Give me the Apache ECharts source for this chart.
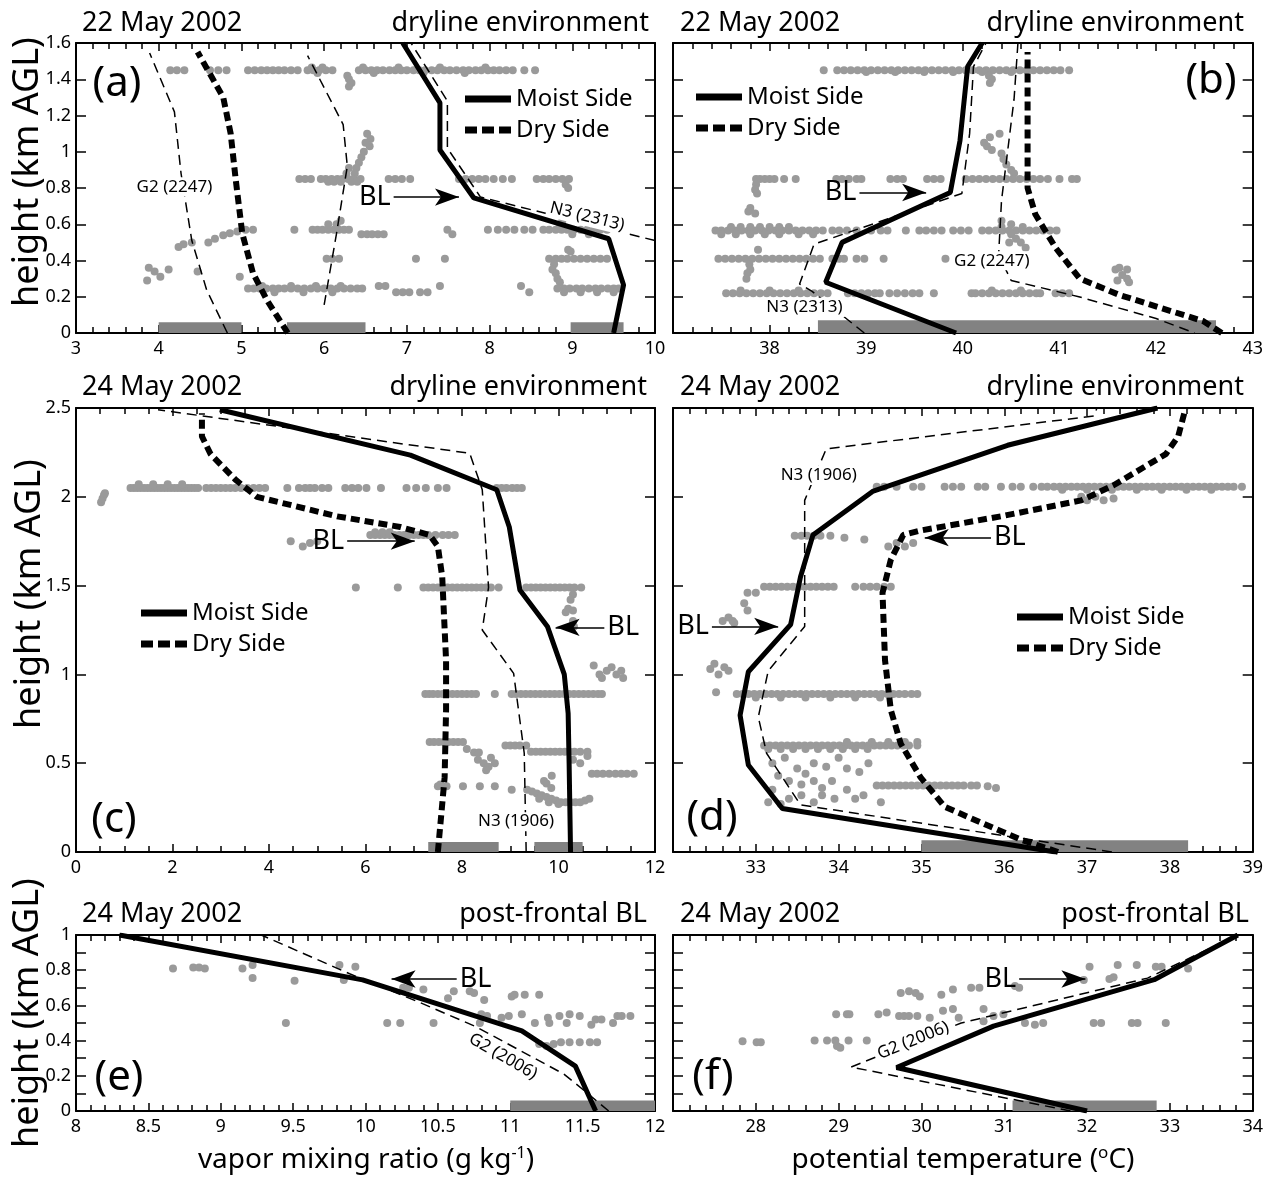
<!DOCTYPE html>
<html><head><meta charset="utf-8">
<script src="https://cdn.jsdelivr.net/npm/echarts@6/dist/echarts.min.js"></script>
<style>html,body{margin:0;padding:0;background:#fff}#c{width:1266px;height:1179px}</style>
</head><body><div id="c"></div>
<script>
const FONT = 'Noto Sans';

// ---------- (a) 22 May 2002, vapor mixing ratio ----------
const moistA = [[9.5,0],[9.62,0.265],[9.44,0.52],[7.81,0.745],[7.4,1.01],[7.4,1.27],[6.95,1.6]];
const dryA = [[5.56,0],[5.31,0.18],[5.14,0.33],[5.01,0.55],[4.93,0.85],[4.87,1.1],[4.78,1.3],[4.47,1.55]];
const g2A = [[4.83,0],[4.58,0.237],[4.4,0.51],[4.27,0.88],[4.19,1.22],[3.89,1.545]];
const thinA = [[6.0,0.155],[6.15,0.55],[6.28,0.92],[6.23,1.15],[5.8,1.53]];
const n3A = [[10,0.51],[7.89,0.75],[7.49,1.02],[7.49,1.28],[7.05,1.6]];
const barsA = [[4.0,5.0],[5.55,6.5],[8.98,9.62]];
const arrowsA = [[6.84,7.63,0.75]];
const notesA = [['G2 (2247)',4.19,0.807,0,1],['N3 (2313)',9.18,0.642,-14,1]];
const dotsA = [
 [1.45,4.14,4.22,4.31,4.62,4.72,4.82,5.08,5.16,5.24,5.31,5.38,5.45,5.52,5.6,5.68,5.8,5.87,5.94,6.02,6.1,6.42,6.5,6.57,6.64,6.71,6.79,6.86,6.93,7.0,7.08,7.15,7.22,7.3,7.37,7.45,7.52,7.6,7.68,7.75,7.83,7.9,7.98,8.05,8.12,8.2,8.28,8.42,8.55],
 [1.465,5.85,5.98,6.47,6.9,7.4,7.95],[1.435,5.92,6.6,7.2,7.7],
 [1.42,6.28],[1.4,6.3],[1.38,6.33],[1.36,6.3],
 [1.1,6.52],[1.07,6.56],[1.05,6.5],[1.03,6.55],[1.0,6.48],[0.97,6.45],[0.94,6.42],[0.91,6.39,6.3],[0.88,6.37,6.27],
 [0.85,5.7,5.77,5.84,5.96,6.02,6.09,6.16,6.22,6.29,6.36,6.44,6.78,6.86,6.94,7.04,7.63,7.71,7.79,7.87,7.95,8.05,8.16,8.27,8.57,8.65,8.72,8.8,8.88,8.96],
 [0.835,6.05,6.12,6.2,6.33,6.4],[0.82,8.92],[0.8,8.95],
 [0.475,4.24],[0.49,4.3],[0.5,4.4,4.6],[0.52,4.68],[0.54,4.78],[0.55,4.86],[0.56,4.95],
 [0.57,5.05,5.14,5.64,5.86,5.92,5.98,6.05,6.12,6.18,6.24,6.3,7.49,7.98,8.1,8.2,8.3,8.42,8.52,8.65,8.72,8.8,8.87,8.94,9.02,9.1,9.18,9.26,9.34,9.42],
 [0.6,6.05,6.15,8.85],[0.62,6.2,8.88],[0.545,6.45,6.52,6.58,6.65,6.72,7.55,9.0,9.2],
 [0.41,6.03,6.1,6.18,7.11,7.46,8.72,8.8,8.87,8.94,9.02,9.1,9.18,9.26,9.34,9.42],
 [0.46,8.95],[0.45,8.98],[0.38,8.78],[0.35,8.76],[0.33,8.8],[0.3,8.82],[0.28,8.85],
 [0.245,5.08,5.15,5.22,5.3,5.38,5.45,5.52,5.6,5.68,5.76,5.84,5.92,6.0,6.08,6.16,6.24,6.32,6.4,6.46,8.82,8.9,8.97,9.05,9.12,9.2,9.28,9.35,9.43,9.5,9.56],
 [0.26,5.25,5.6,5.9,6.2,6.66,6.74,7.4,8.38],
 [0.225,5.4,5.75,6.1,6.87,6.95,7.03,7.16,7.25,8.48,8.9,9.1,9.3,9.5],
 [0.36,3.88],[0.34,3.95,4.47],[0.31,4.02,4.98],[0.35,4.12],[0.29,3.86]
];

// ---------- (b) 22 May 2002, potential temperature ----------
const moistB = [[39.93,0],[38.58,0.28],[38.75,0.5],[39.87,0.775],[39.97,1.06],[40.05,1.47],[40.2,1.6]];
const dryB = [[42.68,0],[42.49,0.065],[42.04,0.14],[41.62,0.21],[41.21,0.3],[40.96,0.47],[40.75,0.655],[40.67,0.8],[40.67,1.55]];
const n3B = [[38.98,0],[38.44,0.23],[38.31,0.27],[38.46,0.49],[39.99,0.77],[40.07,1.1],[40.11,1.47],[40.24,1.6]];
const g2B = [[40.57,1.6],[40.53,1.29],[40.4,0.73],[40.37,0.43],[40.5,0.29],[41.2,0.2],[42.0,0.08],[42.4,0.0]];
const barsB = [[38.5,42.62]];
const arrowsB = [[38.93,39.62,0.775]];
const notesB = [['G2 (2247)',40.3,0.398,0,1],['N3 (2313)',38.36,0.142,0,1]];
const dotsB = [
 [1.45,38.56,38.7,38.77,38.84,38.91,38.98,39.05,39.12,39.19,39.26,39.33,39.4,39.47,39.54,39.61,39.68,39.75,39.82,39.89,39.96,40.03,40.1,40.17,40.24,40.31,40.38,40.45,40.52,40.59,40.66,40.73,40.8,40.87,40.94,41.01,41.1],
 [1.44,39.0,39.3,39.6,39.9,40.2,40.5],[1.42,40.27],[1.4,40.3],[1.38,40.28],
 [1.1,40.38],[1.08,40.28],[1.05,40.22],[1.03,40.25],[1.01,40.3],[0.99,40.4],[0.96,40.42],[0.93,40.45],[0.9,40.5],[0.88,40.53],
 [0.85,37.86,37.9,37.95,38.0,38.05,38.15,38.27,38.69,38.75,38.82,38.9,38.95,39.25,39.32,39.38,39.63,39.7,39.77,40.03,40.1,40.17,40.24,40.31,40.38,40.45,40.52,40.59,40.66,40.73,40.8,40.88,41.0,41.13,41.18],
 [0.82,37.86],[0.79,37.85],[0.77,37.87],[0.69,37.8],[0.67,37.78],[0.66,37.85],
 [0.565,37.44,37.5,37.57,37.64,37.71,37.78,37.85,37.92,37.99,38.06,38.13,38.2,38.27,38.34,38.41,38.48,38.55,38.65,38.72,38.8,38.9,39.05,39.15,39.22,39.41,39.55,39.62,39.7,39.78,39.9,39.98,40.06,40.2,40.27,40.34,40.41,40.48,40.55,40.62,40.69,40.76,40.83,40.9,40.97],
 [0.585,37.6,37.7,37.8,37.9,38.0,38.1,38.2,40.4,40.62],[0.545,37.5,37.65,37.8,37.95,38.1,38.3,38.45,40.5],
 [0.52,40.55],[0.5,40.48,40.6],[0.47,40.65],[0.62,40.4],[0.6,40.5],
 [0.41,37.47,37.54,37.61,37.68,37.75,37.82,37.89,37.96,38.03,38.1,38.17,38.24,38.31,38.38,38.45,38.52,38.65,38.72,38.77,38.9,38.98,39.18,39.82],
 [0.38,37.79],[0.35,37.8],[0.33,37.77],[0.3,37.76],[0.46,37.88],
 [0.35,41.58,41.7],[0.36,41.62],[0.32,41.65],[0.3,41.7],[0.28,41.72],[0.29,41.6],
 [0.22,37.55,37.62,37.69,37.76,37.83,37.9,37.97,38.04,38.11,38.18,38.25,38.32,38.39,38.46,38.53,38.6,38.81,38.88,38.95,39.02,39.09,39.14,39.24,39.32,39.4,39.48,39.55,39.7,40.09,40.13,40.2,40.27,40.34,40.41,40.48,40.55,40.62,40.69,40.76,40.8,40.96,41.03,41.1],
 [0.235,37.7,38.0,38.3,40.3,40.6]
];

// ---------- (c) 24 May 2002, vapor mixing ratio ----------
const moistC = [[10.25,0],[10.22,0.5],[10.2,0.78],[10.12,1.0],[9.77,1.27],[9.2,1.475],[8.98,1.83],[8.72,2.04],[6.93,2.235],[2.98,2.49]];
const dryC = [[7.5,0],[7.6,0.3],[7.64,0.42],[7.67,0.8],[7.67,1.08],[7.59,1.55],[7.5,1.72],[7.33,1.785],[6.72,1.83],[5.41,1.89],[3.75,2.0],[3.31,2.095],[2.79,2.24],[2.61,2.34],[2.61,2.47]];
const n3C = [[9.33,0],[9.29,0.556],[9.07,1.006],[8.42,1.25],[8.55,1.49],[8.42,2.04],[8.16,2.245],[3.83,2.41],[1.7,2.49]];
const barsC = [[7.3,8.76],[9.5,10.5]];
const arrowsC = [[5.62,7.02,1.75],[10.95,9.94,1.265]];
const notesC = [['N3 (1906)',9.12,0.171,0,1]];
const dotsC = [
 [1.97,0.52],[1.99,0.55],[2.01,0.58],[2.02,0.6],
 [2.05,1.13,1.2,1.27,1.34,1.41,1.48,1.55,1.62,1.69,1.76,1.83,1.9,1.97,2.04,2.11,2.18,2.25,2.32,2.39,2.46,2.53,2.7,2.8,2.9,3.0,3.1,3.2,3.3,3.42,3.55,3.68,3.8,3.92,4.38,4.62,4.75,4.85,4.95,5.1,5.23,5.58,5.72,5.85,6.02,6.32,6.85,7.05,7.25,7.5,7.68,8.72,8.82,8.92,9.04,9.14,9.24],
 [2.07,1.3,1.6,1.9,2.2],
 [1.75,4.45,5.0],[1.72,4.7],[1.74,4.85],
 [1.785,6.1,6.2,6.3,6.4,6.5,6.6,6.7,6.8,6.9,7.0,7.1,7.2,7.3,7.45,7.6,7.72,7.85],[1.8,6.2,6.35,6.5],
 [1.49,5.8,6.67,7.2,7.3,7.4,7.5,7.6,7.7,7.8,7.9,8.0,8.1,8.2,8.3,8.4,8.5,8.6,8.76,9.33,9.43,9.53,9.63,9.73,9.83,9.93,10.03,10.13,10.23,10.33,10.47],
 [1.45,10.3],[1.42,10.25],[1.37,10.2],[1.36,10.3],[1.35,10.15],[1.3,10.3],[1.27,10.32],
 [1.05,10.73],[1.0,10.85,11.2],[0.98,10.9,11.34],[1.02,11.0,11.3],[1.04,11.1],
 [0.89,7.24,7.32,7.4,7.5,7.6,7.7,7.8,7.9,8.0,8.1,8.2,8.29,8.68,9.03,9.12,9.22,9.32,9.42,9.52,9.62,9.72,9.82,9.92,10.02,10.12,10.22,10.32,10.42,10.52,10.62,10.72,10.82,10.9],
 [0.62,7.33,7.42,7.52,7.62,7.72,7.82,7.92,8.02],[0.58,8.1],[0.56,8.25,8.35],
 [0.6,8.9,9.0,9.1,9.2,9.33],
 [0.565,9.43,9.53,9.63,9.73,9.83,9.93,10.03,10.13,10.23,10.33,10.45,10.6],
 [0.52,10.3,8.33],[0.5,10.45,8.45,8.68],[0.54,10.6],[0.48,8.55],[0.46,8.5],[0.53,8.6],
 [0.44,10.69,10.8,10.92,11.05,11.18,11.3,11.42,11.56],[0.43,9.86],
 [0.37,7.5,7.68,8.02,8.37,8.68],[0.38,7.55],
 [0.35,9.03,9.35],[0.34,9.45],[0.33,9.55],[0.32,9.65],[0.31,9.75],[0.3,9.85,9.6,10.64],[0.29,9.95,10.55],[0.28,10.05,10.15,10.25,10.35,10.45,9.8],[0.27,10.0],
 [0.4,9.7],[0.385,9.75],[0.36,9.85]
];

// ---------- (d) 24 May 2002, potential temperature ----------
const moistD = [[36.62,0],[33.32,0.245],[32.91,0.49],[32.81,0.77],[32.91,1.015],[33.42,1.28],[33.54,1.55],[33.69,1.785],[34.41,2.03],[36.04,2.29],[37.85,2.5]];
const dryD = [[36.65,0],[36.2,0.07],[35.72,0.165],[35.28,0.255],[34.99,0.42],[34.75,0.61],[34.63,0.8],[34.56,1.08],[34.53,1.46],[34.63,1.645],[34.78,1.785],[34.99,1.81],[35.96,1.89],[36.93,1.98],[37.32,2.065],[37.95,2.24],[38.1,2.34],[38.19,2.5]];
const n3D = [[37.3,0],[33.54,0.265],[33.13,0.556],[33.03,0.76],[33.15,1.02],[33.59,1.27],[33.59,1.98],[33.85,2.27],[37.08,2.455],[37.12,2.5]];
const barsD = [[35.0,38.22]];
const arrowsD = [[35.84,35.04,1.77],[32.47,33.27,1.27]];
const notesD = [['N3 (1906)',33.76,2.12,0,1]];
const dotsD = [
 [2.057,34.46,34.55,34.7,34.9,35.0,35.28,35.38,35.48,35.68,35.77,35.96,36.1,36.2,36.35,36.45,36.52,36.6,36.67,36.74,36.81,36.88,36.95,37.02,37.09,37.16,37.23,37.3,37.37,37.44,37.51,37.58,37.65,37.72,37.79,37.86,37.93,38.0,38.07,38.14,38.21,38.28,38.35,38.42,38.49,38.56,38.63,38.7,38.77,38.87],
 [2.04,36.7,37.0,37.3,37.6,37.9,38.2,38.5],
 [2.0,36.93,37.1],[1.98,37.0,37.2],[1.99,37.32],
 [1.78,33.47,33.55,33.62,33.7,33.78,33.9],[1.77,34.07],[1.76,34.31],[1.72,34.6,34.8],[1.74,34.7,34.9],
 [1.46,32.9,33.0],
 [1.494,33.1,33.17,33.24,33.31,33.38,33.45,33.52,33.59,33.66,33.73,33.8,33.87,33.94,34.2,34.3,34.38,34.46,34.55,34.63],
 [1.4,32.86],[1.36,32.9],[1.32,32.67],[1.3,32.72,32.6],[1.29,32.74],
 [1.03,32.45],[1.06,32.5],[1.0,32.55],[1.04,32.62],[1.02,32.67],[0.9,32.52],
 [0.89,32.77,32.84,32.91,32.98,33.05,33.12,33.19,33.26,33.33,33.4,33.47,33.54,33.61,33.68,33.75,33.82,33.89,33.96,34.03,34.1,34.17,34.24,34.31,34.38,34.45,34.52,34.59,34.66,34.73,34.8,34.88,34.95],
 [0.87,33.0,33.3,33.6,33.9,34.2,34.5],
 [0.6,33.1,33.17,33.24,33.31,33.38,33.45,33.52,33.59,33.66,33.73,33.8,33.87,33.94,34.01,34.08,34.15,34.22,34.29,34.36,34.43,34.5,34.57,34.64,34.71,34.78,34.85,34.95],
 [0.58,33.15,33.3,33.45,33.6,33.75,33.9,34.05,34.2,34.35],[0.62,34.1,34.4,34.6,34.8,34.95],
 [0.5,33.2,33.7,34.36],[0.53,33.35,34.0],[0.47,33.5,34.1],[0.48,33.85],[0.45,34.25],[0.44,33.6],
 [0.375,34.46,34.53,34.6,34.67,34.74,34.81,34.88,34.95,35.02,35.09,35.16,35.23,35.3,35.37,35.44,35.51,35.6,35.67],
 [0.37,35.8],[0.36,35.9],
 [0.43,33.27],[0.4,33.4,33.7,33.92],[0.38,33.55],[0.36,33.8],[0.35,33.2,34.1],[0.3,33.4,33.95,34.2],[0.32,33.55,33.8,34.3],[0.28,33.7,34.51,33.15],[0.27,33.3]
];

// ---------- (e) 24 May 2002 post-frontal, vapor mixing ratio ----------
const moistE = [[11.59,0],[11.45,0.255],[11.08,0.455],[9.98,0.745],[8.3,1.0]];
const g2E = [[11.68,0],[11.52,0.11],[11.37,0.21],[10.76,0.48],[10.38,0.615],[9.89,0.78],[9.28,1.0]];
const barsE = [[11.0,12.0]];
const arrowsE = [[10.63,10.18,0.75]];
const notesE = [['G2 (2006)',10.95,0.31,-30,0]];
const dotsE = [
 [0.81,8.67,8.89,9.15],[0.815,8.81,8.85],[0.83,9.22,9.82],[0.755,9.22],[0.74,9.51],[0.745,9.85],[0.82,9.93],
 [0.5,9.45,10.15,10.24,10.47,10.79,11.17,11.27,11.39,11.71],[0.7,10.26,10.3],[0.69,10.4],[0.64,10.57],
 [0.68,10.61,10.72],[0.67,10.75],[0.63,10.82],[0.55,10.8,11.08,11.41],[0.54,10.84,10.99,11.34,11.48,11.74,11.77,11.83],
 [0.53,10.94,11.26],[0.65,11.01],[0.66,11.03,11.1,11.2],[0.38,11.2,11.3],[0.37,11.25],[0.39,11.35,11.41,11.48,11.55,11.6],
 [0.49,11.56],[0.52,11.59,11.63]
];

// ---------- (f) 24 May 2002 post-frontal, potential temperature ----------
const moistF = [[32.0,0],[29.7,0.247],[30.87,0.482],[32.81,0.746],[33.82,1.0]];
const g2F = [[31.8,0],[29.15,0.25],[30.48,0.5],[32.73,0.755],[33.82,1.0]];
const barsF = [[31.1,32.84]];
const arrowsF = [[31.18,31.98,0.75]];
const notesF = [['G2 (2006)',29.9,0.4,22,1]];
const dotsF = [
 [0.397,27.84],[0.39,28.01,28.06],[0.4,28.71,28.86,28.96,29.12,29.34],[0.37,28.98],[0.36,29.02],
 [0.55,28.97,29.1,29.13,29.48,30.99],[0.56,29.58],[0.54,29.73,29.79,29.85,29.95,30.87],[0.53,30.1,30.45],
 [0.67,29.75,29.93],[0.68,29.85],[0.65,29.98],[0.66,30.24],[0.69,30.38],[0.57,30.26],[0.58,30.38,30.75],
 [0.7,30.6,30.7,31.18],[0.51,30.75],[0.71,31.13],[0.5,31.25,31.47,32.08,32.17,32.54,32.61,32.95],[0.49,31.37],
 [0.745,31.96],[0.82,32.03,32.83,32.9],[0.75,32.27],[0.76,32.32],[0.83,32.37,32.6],[0.81,33.22]
];

// ---------- layout ----------
const panels = [
 {grid:{left:76,top:43,width:579,height:290}, x:[3,10,1,5], y:[1.6,0.2,0], yLab:true, minX:true,
  moist:moistA, dry:dryA, thin:[g2A,thinA,n3A], dots:dotsA, bars:barsA, barH:0.06, arrows:arrowsA, notes:notesA},
 {grid:{left:673,top:43,width:580,height:290}, x:[37,43,1,5], y:[1.6,0.2,0], yLab:false, minX:false,
  moist:moistB, dry:dryB, thin:[n3B,g2B], dots:dotsB, bars:barsB, barH:0.07, arrows:arrowsB, notes:notesB},
 {grid:{left:76,top:408,width:579,height:444}, x:[0,12,2,4], y:[2.5,0.5,0], yLab:true, minX:true,
  moist:moistC, dry:dryC, thin:[n3C], dots:dotsC, bars:barsC, barH:0.056, arrows:arrowsC, notes:notesC},
 {grid:{left:673,top:408,width:580,height:444}, x:[32,39,1,5], y:[2.5,0.5,0], yLab:false, minX:false,
  moist:moistD, dry:dryD, thin:[n3D], dots:dotsD, bars:barsD, barH:0.066, arrows:arrowsD, notes:notesD},
 {grid:{left:76,top:935,width:579,height:176}, x:[8,12,0.5,5], y:[1,0.2,2], yLab:true, minX:true,
  moist:moistE, dry:null, thin:[g2E], dots:dotsE, bars:barsE, barH:0.06, arrows:arrowsE, notes:notesE},
 {grid:{left:673,top:935,width:580,height:176}, x:[27,34,1,5], y:[1,0.2,2], yLab:false, minX:false,
  moist:moistF, dry:null, thin:[g2F], dots:dotsF, bars:barsF, barH:0.06, arrows:arrowsF, notes:notesF}
];

const flat = rows => rows.flatMap(r => r.slice(1).map(x => [x, r[0]]));
const BLACK = '#000';
const grids = [], xAxes = [], yAxes = [], series = [];

function axisCommon(extra) {
  return Object.assign({
    type:'value',
    axisLine:{show:true, onZero:false, lineStyle:{color:BLACK, width:2}},
    splitLine:{show:false},
    axisLabel:{show:false}
  }, extra);
}

panels.forEach((p, i) => {
  grids.push(Object.assign({containLabel:false}, p.grid));
  const [xmin, xmax, xint, xminor] = p.x;
  const [ymax, yint, yminor] = p.y;
  const xt = {show:true, inside:true, length:8, lineStyle:{color:BLACK, width:1.5}};
  const xm = {show:true, splitNumber:xminor, length:6, lineStyle:{color:BLACK, width:1.5}};
  const yt = {show:true, inside:true, length:10, lineStyle:{color:BLACK, width:1.5}};
  const ym = yminor ? {show:true, splitNumber:yminor, length:10, lineStyle:{color:BLACK, width:1.5}} : {show:false};
  xAxes.push(axisCommon({gridIndex:i, min:xmin, max:xmax, interval:xint, position:'bottom',
    axisTick:xt, minorTick:xm,
    axisLabel:{show:true, fontSize:18, color:BLACK, margin:7, fontFamily:FONT, showMinLabel:p.minX, showMaxLabel:true}}));
  xAxes.push(axisCommon({gridIndex:i, min:xmin, max:xmax, interval:xint, position:'top', axisTick:xt, minorTick:xm}));
  yAxes.push(axisCommon({gridIndex:i, min:0, max:ymax, interval:yint, position:'left', axisTick:yt, minorTick:ym,
    axisLabel:{show:p.yLab, fontSize:18, color:BLACK, margin:5, fontFamily:FONT}}));
  yAxes.push(axisCommon({gridIndex:i, min:0, max:ymax, interval:yint, position:'right', axisTick:yt, minorTick:ym}));
  const xi = 2*i, yi = 2*i;

  series.push({type:'scatter', name:'obs'+i, xAxisIndex:xi, yAxisIndex:yi, data:flat(p.dots),
    symbolSize:8, itemStyle:{color:'#9a9a9a', opacity:1}, z:1, silent:true,
    markArea:{silent:true, itemStyle:{color:'#828282', opacity:1},
      data:p.bars.map(b => [{coord:[b[0],0]},{coord:[b[1],p.barH]}])}});

  p.thin.forEach((t, k) => series.push({type:'line', name:'sonde'+i+'_'+k, xAxisIndex:xi, yAxisIndex:yi, data:t,
    symbol:'none', z:3, silent:true, lineStyle:{color:BLACK, width:1.5, type:[10,6]}}));

  if (p.dry) series.push({type:'line', name:'Dry Side', xAxisIndex:xi, yAxisIndex:yi, data:p.dry,
    symbol:'none', z:4, silent:true, itemStyle:{color:BLACK}, lineStyle:{color:BLACK, width:6, type:[9,5]}});

  series.push({type:'line', name:'Moist Side', xAxisIndex:xi, yAxisIndex:yi, data:p.moist,
    symbol:'none', z:5, silent:true, itemStyle:{color:BLACK}, lineStyle:{color:BLACK, width:5},
    markLine:{silent:true, animation:false, symbol:['none','arrow'],
      lineStyle:{color:BLACK, width:1.5, type:'solid'},
      label:{show:true, formatter:'BL', position:'start', fontSize:27, color:BLACK, fontFamily:FONT, distance:3},
      emphasis:{disabled:true},
      data:p.arrows.map(a => [{coord:[a[0],a[2]], symbol:'none'},{coord:[a[1],a[2]], symbol:'arrow', symbolSize:[13,24]}])}});
});

const legBase = {orient:'vertical', itemWidth:46, itemHeight:7, itemGap:7, padding:0, selectedMode:false,
  itemStyle:{color:BLACK},
  textStyle:{fontSize:24, color:BLACK, fontFamily:FONT},
  data:[{name:'Moist Side', icon:'rect'},
        {name:'Dry Side', icon:'path://M0,0H12V7H0Z M17,0H29V7H17Z M34,0H46V7H34Z'}]};
const legends = [[465,87],[696,85],[141,601],[1017,605]].map(([l,t]) => Object.assign({}, legBase, {left:l, top:t}));

const titles = [
 ['22 May 2002',82,23,'left'],['dryline environment',649,23,'right'],
 ['22 May 2002',680,23,'left'],['dryline environment',1244,23,'right'],
 ['24 May 2002',82,387,'left'],['dryline environment',647,387,'right'],
 ['24 May 2002',680,387,'left'],['dryline environment',1244,387,'right'],
 ['24 May 2002',82,914,'left'],['post-frontal BL',647,914,'right'],
 ['24 May 2002',680,914,'left'],['post-frontal BL',1249,914,'right']
];
const letters = [['(a)',117,84],['(b)',1211,81],['(c)',114,820],['(d)',712,818],['(e)',119,1078],['(f)',713,1077]];
const yTitles = [[28,172],[30,594],[28,1013]];

const graphic = [];
titles.forEach(t => graphic.push({type:'text', x:t[1], y:t[2], silent:true,
  style:{text:t[0], fill:BLACK, font:'27px "'+FONT+'"', textAlign:t[3], textVerticalAlign:'middle'}}));
letters.forEach(t => graphic.push({type:'text', x:t[1], y:t[2], silent:true,
  style:{text:t[0], fill:BLACK, font:'42px "'+FONT+'"', textAlign:'center', textVerticalAlign:'middle'}}));
yTitles.forEach(t => graphic.push({type:'text', x:t[0], y:t[1], rotation:Math.PI/2, silent:true,
  style:{text:'height (km AGL)', fill:BLACK, font:'36px "'+FONT+'"', textAlign:'center', textVerticalAlign:'middle'}}));
graphic.push({type:'text', x:366, y:1160, silent:true,
  style:{text:'vapor mixing ratio (g kg{s|-1})', fill:BLACK, font:'28px "'+FONT+'"', textAlign:'center', textVerticalAlign:'middle',
    rich:{s:{fontSize:16, fontFamily:FONT, fill:BLACK, verticalAlign:'top', padding:[0,0,14,0]}}}});
graphic.push({type:'text', x:963, y:1160, silent:true,
  style:{text:'potential temperature ({s|o}C)', fill:BLACK, font:'28px "'+FONT+'"', textAlign:'center', textVerticalAlign:'middle',
    rich:{s:{fontSize:17, fontFamily:FONT, fill:BLACK, verticalAlign:'top', padding:[0,0,14,0]}}}});

const chart = echarts.init(document.getElementById('c'), null, {renderer:'canvas'});
chart.setOption({
  animation:false,
  backgroundColor:'#fff',
  textStyle:{fontFamily:FONT},
  grid:grids, xAxis:xAxes, yAxis:yAxes, legend:legends, series:series, graphic:graphic
});

// sonde annotations placed through the grid's own scales
panels.forEach((p, i) => {
  p.notes.forEach(n => {
    const pt = chart.convertToPixel({xAxisIndex:2*i, yAxisIndex:2*i}, [n[1], n[2]]);
    graphic.push({type:'text', x:pt[0], y:pt[1], rotation:n[3]*Math.PI/180, silent:true, z:50,
      style:{text:n[0], fill:BLACK, font:'17px "'+FONT+'"', textAlign:'center', textVerticalAlign:'middle',
        backgroundColor:n[4] ? '#fff' : null, padding:[1,3]}});
  });
});
chart.setOption({graphic:graphic});
</script></body></html>
